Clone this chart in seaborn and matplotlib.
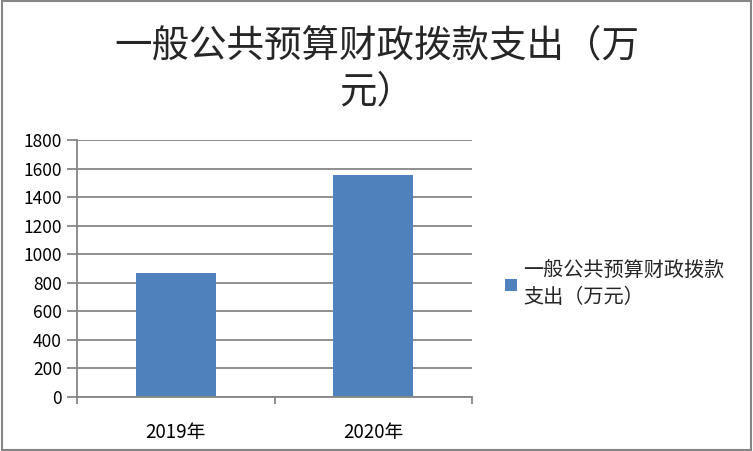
import pandas as pd
import matplotlib.pyplot as plt
import seaborn as sns
from matplotlib.patches import Patch, Rectangle

# Data
years = ['2019年', '2020年']
spending = [872, 1553]
series_name = '一般公共预算财政拨款支出（万元）'
title = '一般公共预算财政拨款支出（万\n元）'

df = pd.DataFrame({'year': years, 'value': spending})

sns.set_theme(style="white")
plt.rcParams['font.family'] = ['Noto Sans CJK SC', 'DejaVu Sans']

BAR = '#4F81BD'
GRID = '#868686'

fig = plt.figure(figsize=(7.53, 4.51), dpi=100)
# outer frame
fig.add_artist(Rectangle((0.002, 0.003), 0.996, 0.994, transform=fig.transFigure,
                         fill=False, edgecolor=GRID, linewidth=1.5))
ax = fig.add_axes([0.1023, 0.1197, 0.5247, 0.5699])

sns.barplot(data=df, x='year', y='value', color=BAR, width=0.405,
            saturation=1, linewidth=0, ax=ax)

ax.set_ylim(0, 1800)
ax.set_yticks(range(0, 1801, 200))
ax.set_xlim(-0.5, 1.5)
ax.set_xlabel('')
ax.set_ylabel('')
ax.yaxis.grid(True, color=GRID, linewidth=1.3)
ax.set_axisbelow(True)
for s in ['top', 'right']:
    ax.spines[s].set_visible(False)
for s in ['left', 'bottom']:
    ax.spines[s].set_color(GRID)
    ax.spines[s].set_linewidth(1.3)

ax.tick_params(axis='y', left=True, length=7, width=1.3, color=GRID,
               labelsize=12.5, pad=4, labelcolor='black')
# x ticks sit between the categories
ax.set_xticks([-0.5, 0.5, 1.5], minor=True)
ax.tick_params(axis='x', which='minor', bottom=True, length=5, width=1.3, color=GRID)
ax.tick_params(axis='x', which='major', bottom=False, labelsize=13.5, pad=12,
               labelcolor='black')

fig.text(0.5, 0.847, title, ha='center', va='center', fontsize=27,
         linespacing=1.25)

handle = Patch(facecolor=BAR, edgecolor='none')
fig.legend([handle], ['一般公共预算财政拨款\n支出（万元）'], loc='center left',
           bbox_to_anchor=(0.647, 0.37), frameon=False, fontsize=14.5,
           handlelength=0.6, handleheight=0.6, handletextpad=0.3,
           labelspacing=0.2)
plt.setp(fig.legends[0].get_texts(), linespacing=1.35)

plt.savefig('out.png', dpi=100)
plt.close()
